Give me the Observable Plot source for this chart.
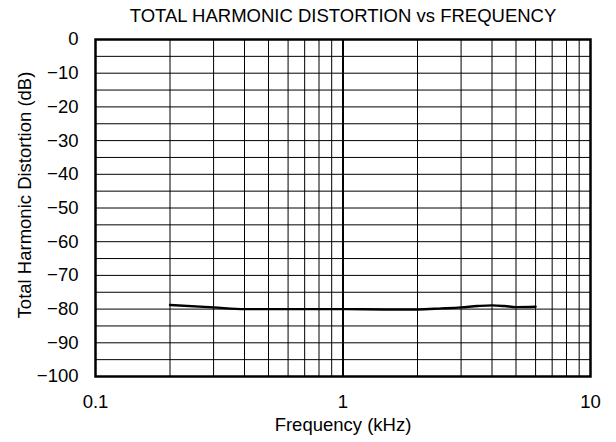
<!DOCTYPE html>
<html><head>
<meta charset="utf-8">
<script src="https://cdn.jsdelivr.net/npm/d3@7"></script>
<script src="https://cdn.jsdelivr.net/npm/@observablehq/plot@0.6"></script>
<style>body{margin:0;background:#fff}</style>
</head><body><div id="chart"></div>
<script>
const freqKHz = [0.2, 0.3, 0.4, 0.5, 0.7, 1, 1.5, 2, 2.5, 3, 3.5, 4, 4.5, 5, 6];
const thdDb   = [-78.8, -79.5, -80, -80, -80, -80, -80.1, -80.1, -79.8, -79.5, -79.1, -78.9, -79.1, -79.4, -79.3];
const yTicks = [0, -10, -20, -30, -40, -50, -60, -70, -80, -90, -100];
const yGrid = [-95, -90, -85, -80, -75, -70, -65, -60, -55, -50, -45, -40, -35, -30, -25, -20, -15, -10, -5];
const xTicks = [0.1, 1, 10];
const xGrid = [0.2, 0.3, 0.4, 0.5, 0.6, 0.7, 0.8, 0.9, 2, 3, 4, 5, 6, 7, 8, 9];
const xMajor = [1];
const title = "TOTAL HARMONIC DISTORTION vs FREQUENCY";
const xLabel = "Frequency (kHz)";
const yLabel = "Total Harmonic Distortion (dB)";

const data = freqKHz.map((f, i) => ({f, v: thdDb[i]}));
const fmtY = d => d < 0 ? "\u2212" + (-d) : String(d);
const FS = 18.5;

const chart = Plot.plot({
  width: 616, height: 442,
  marginLeft: 95, marginRight: 26, marginTop: 39, marginBottom: 66,
  style: {fontFamily: "'Liberation Sans', Arial, sans-serif", fontSize: FS + "px", color: "#000", background: "#fff"},
  x: {type: "log", domain: [0.1, 10]},
  y: {domain: [-100, 0]},
  marks: [
    Plot.ruleY(yGrid, {stroke: "#000", strokeWidth: 1}),
    Plot.ruleX(xGrid, {stroke: "#000", strokeWidth: 1}),
    Plot.ruleX(xMajor, {stroke: "#000", strokeWidth: 2}),
    Plot.frame({stroke: "#000", strokeWidth: 2.5}),
    Plot.line(data, {x: "f", y: "v", stroke: "#000", strokeWidth: 2.4, curve: "monotone-x"}),
    Plot.axisY(yTicks, {tickSize: 0, tickPadding: 17, tickFormat: fmtY, label: null, fontSize: FS}),
    Plot.axisX(xTicks, {tickSize: 0, tickPadding: 18, tickFormat: d => String(d), label: null, fontSize: FS}),
    Plot.text([title], {frameAnchor: "top", textAnchor: "middle", lineAnchor: "middle", dy: -23, fontSize: FS, fill: "#000"}),
    Plot.text([xLabel], {frameAnchor: "bottom", textAnchor: "middle", lineAnchor: "middle", dy: 49, fontSize: FS, fill: "#000"}),
    Plot.text([yLabel], {frameAnchor: "left", textAnchor: "middle", lineAnchor: "middle", dx: -70, dy: -13, rotate: -90, fontSize: FS, fill: "#000"})
  ]
});
document.getElementById("chart").appendChild(chart);
</script>
</body></html>
